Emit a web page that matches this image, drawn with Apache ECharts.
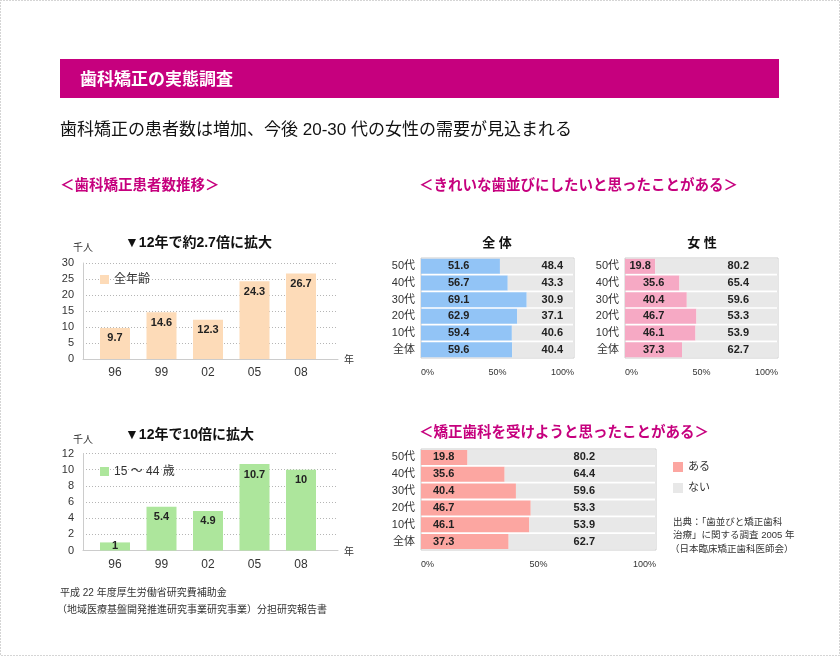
<!DOCTYPE html>
<html><head><meta charset="utf-8">
<script src="https://cdn.jsdelivr.net/npm/echarts@6/dist/echarts.min.js"></script>
<style>html,body{margin:0;padding:0;background:#fff}#c{width:840px;height:656px}</style>
</head><body><div id="c"></div>
<script>
const years = ['96','99','02','05','08'];
const allAges = [9.7, 14.6, 12.3, 24.3, 26.7];
const age15to44 = [1, 5.4, 4.9, 10.7, 10];
const ageGroups = ['50代','40代','30代','20代','10代','全体'];
const wishAllYes = [51.6, 56.7, 69.1, 62.9, 59.4, 59.6];
const wishAllNo = [48.4, 43.3, 30.9, 37.1, 40.6, 40.4];
const wishFemaleYes = [19.8, 35.6, 40.4, 46.7, 46.1, 37.3];
const wishFemaleNo = [80.2, 65.4, 59.6, 53.3, 53.9, 62.7];
const treatYes = [19.8, 35.6, 40.4, 46.7, 46.1, 37.3];
const treatNo = [80.2, 64.4, 59.6, 53.3, 53.9, 62.7];

const FONT = '"Liberation Sans","Noto Sans CJK JP",sans-serif';
const MAG = '#c6007e';
const GREY = '#e8e8e8';

function txt(text, x, y, size, opts) {
  opts = opts || {};
  return {
    type: 'text', x: x, y: y, silent: true,
    style: {
      text: text, fill: opts.color || '#222',
      font: (opts.bold ? 'bold ' : '') + size + 'px ' + FONT,
      textAlign: opts.align || 'left', textVerticalAlign: 'middle',
      align: opts.align || 'left', verticalAlign: 'middle'
    }
  };
}

const valLabel = { show: true, fontSize: 11, fontWeight: 'bold', color: '#222', fontFamily: FONT };

function frameAxes(grid, max, interval) {
  return {
    x: { gridIndex: grid, type: 'category', data: years, axisLabel: { show: false }, axisTick: { show: false },
         axisLine: { lineStyle: { color: '#ccc' } } },
    y: { gridIndex: grid, type: 'value', min: 0, max: max, interval: interval,
         axisLine: { show: true, lineStyle: { color: '#ccc' } }, axisTick: { show: false },
         axisLabel: { fontSize: 11, color: '#333', margin: 9, fontFamily: FONT },
         splitLine: { lineStyle: { type: [1, 2], color: '#b5b5b5' } } }
  };
}
function barAxes(grid, max) {
  return {
    x: { gridIndex: grid, type: 'category', data: years, axisLine: { show: false }, axisTick: { show: false },
         axisLabel: { fontSize: 12, color: '#333', margin: 8, fontFamily: FONT } },
    y: { gridIndex: grid, type: 'value', min: 0, max: max, show: false }
  };
}
function hAxes(grid) {
  return {
    x: { gridIndex: grid, type: 'value', min: 0, max: 100, interval: 50,
         axisLine: { show: false }, axisTick: { show: false }, splitLine: { show: false },
         axisLabel: { formatter: '{value}%', fontSize: 9, color: '#333', margin: 10, fontFamily: FONT,
                      alignMinLabel: 'left', alignMaxLabel: 'right' } },
    y: { gridIndex: grid, type: 'category', data: ageGroups, inverse: true,
         axisLine: { show: false }, axisTick: { show: false },
         axisLabel: { fontSize: 11, color: '#333', margin: 6, fontFamily: FONT } }
  };
}

const f1 = frameAxes(0, 30, 5), b1 = barAxes(1, 30);
const f2 = frameAxes(2, 12, 2), b2 = barAxes(3, 12);
const h1 = hAxes(4), h2 = hAxes(5), h3 = hAxes(6);

const hGrid = { show: true, borderColor: '#ccc', borderWidth: 1, backgroundColor: 'transparent' };

const option = {
  animation: false,
  textStyle: { fontFamily: FONT },
  graphic: [
    { type: 'rect', silent: true, shape: { x: 0.5, y: 0.5, width: 839, height: 655 },
      style: { fill: 'none', stroke: '#aaa', lineWidth: 1, lineDash: [1, 2] } },
    { type: 'rect', silent: true, shape: { x: 60, y: 59, width: 719, height: 39 }, style: { fill: MAG } },
    txt('歯科矯正の実態調査', 80, 80, 17, { bold: true, color: '#fff' }),
    txt('歯科矯正の患者数は増加、今後 20-30 代の女性の需要が見込まれる', 60, 130, 17, { color: '#111' }),
    txt('＜歯科矯正患者数推移＞', 60, 186, 14.5, { bold: true, color: MAG }),
    txt('＜きれいな歯並びにしたいと思ったことがある＞', 419, 186, 14.5, { bold: true, color: MAG }),
    txt('＜矯正歯科を受けようと思ったことがある＞', 419, 433, 14.5, { bold: true, color: MAG }),
    txt('▼12年で約2.7倍に拡大', 125, 243, 14, { bold: true, color: '#111' }),
    txt('▼12年で10倍に拡大', 125, 435, 14, { bold: true, color: '#111' }),
    txt('千人', 83, 248, 10, { align: 'center', color: '#333' }),
    txt('千人', 83, 440, 10, { align: 'center', color: '#333' }),
    txt('年', 349, 360, 10, { align: 'center', color: '#333' }),
    txt('年', 349, 552, 10, { align: 'center', color: '#333' }),
    txt('全 体', 497, 243, 13, { bold: true, align: 'center', color: '#111' }),
    txt('女 性', 702, 243, 13, { bold: true, align: 'center', color: '#111' }),
    txt('出典：「歯並びと矯正歯科', 673, 522, 9.5, { color: '#333' }),
    txt('治療」に関する調査 2005 年', 673, 535.5, 9.5, { color: '#333' }),
    txt('（日本臨床矯正歯科医師会）', 670, 549, 9.5, { color: '#333' }),
    txt('平成 22 年度厚生労働省研究費補助金', 60, 593, 10, { color: '#333' }),
    txt('（地域医療基盤開発推進研究事業研究事業）分担研究報告書', 57, 610, 10, { color: '#333' })
  ],
  legend: [
    { data: ['全年齢'], left: 100, top: 273.5, padding: 0, itemWidth: 9, itemHeight: 9, icon: 'rect',
      selectedMode: false, textStyle: { fontSize: 12, color: '#333', fontFamily: FONT } },
    { data: ['15 ～ 44 歳'], left: 100, top: 465.5, padding: 0, itemWidth: 9, itemHeight: 9, icon: 'rect',
      selectedMode: false, textStyle: { fontSize: 12, color: '#333', fontFamily: FONT } },
    { data: ['ある', 'ない'], orient: 'vertical', left: 673, top: 461.5, padding: 0, itemWidth: 10, itemHeight: 10,
      itemGap: 10, icon: 'rect', selectedMode: false, textStyle: { fontSize: 11, color: '#333', fontFamily: FONT } }
  ],
  grid: [
    { left: 83, top: 263, width: 255, height: 96 },
    { left: 91.75, top: 263, width: 232.5, height: 96 },
    { left: 83, top: 453.5, width: 255, height: 97 },
    { left: 91.75, top: 453.5, width: 232.5, height: 97 },
    Object.assign({ left: 421, top: 258, width: 153, height: 100 }, hGrid),
    Object.assign({ left: 625, top: 258, width: 153, height: 100 }, hGrid),
    Object.assign({ left: 421, top: 449, width: 235, height: 101 }, hGrid)
  ],
  xAxis: [f1.x, b1.x, f2.x, b2.x, h1.x, h2.x, h3.x],
  yAxis: [f1.y, b1.y, f2.y, b2.y, h1.y, h2.y, h3.y],
  series: [
    { name: '全年齢', type: 'bar', xAxisIndex: 1, yAxisIndex: 1, data: allAges, barWidth: 30,
      itemStyle: { color: '#fddbb8' }, label: Object.assign({ position: 'insideTop', distance: 5 }, valLabel) },
    { name: '15 ～ 44 歳', type: 'bar', xAxisIndex: 3, yAxisIndex: 3, barWidth: 30,
      data: age15to44.map(v => v < 2 ? { value: v, label: { position: 'inside' } } : v),
      itemStyle: { color: '#ade69c' }, label: Object.assign({ position: 'insideTop', distance: 5 }, valLabel) },

    { name: '全体ある', type: 'bar', xAxisIndex: 4, yAxisIndex: 4, stack: 'a', data: wishAllYes, barWidth: 15,
      itemStyle: { color: '#92c4f6' }, label: Object.assign({ position: 'insideLeft', distance: 27 }, valLabel) },
    { name: '全体ない', type: 'bar', xAxisIndex: 4, yAxisIndex: 4, stack: 'a', data: wishAllNo, barWidth: 15,
      itemStyle: { color: GREY }, label: Object.assign({ position: 'insideRight', distance: 11 }, valLabel) },

    { name: '女性ある', type: 'bar', xAxisIndex: 5, yAxisIndex: 5, stack: 'b', barWidth: 15,
      data: wishFemaleYes.map(v => v < 25 ? { value: v, label: { position: 'inside' } } : v),
      itemStyle: { color: '#f6a9c4' }, label: Object.assign({ position: 'insideLeft', distance: 18 }, valLabel) },
    { name: '女性ない', type: 'bar', xAxisIndex: 5, yAxisIndex: 5, stack: 'b', data: wishFemaleNo, barWidth: 15,
      itemStyle: { color: GREY }, label: Object.assign({ position: 'insideRight', distance: 29 }, valLabel) },

    { name: 'ある', type: 'bar', xAxisIndex: 6, yAxisIndex: 6, stack: 'c', data: treatYes, barWidth: 15,
      itemStyle: { color: '#fca6a1' }, label: Object.assign({ position: 'insideLeft', distance: 12 }, valLabel) },
    { name: 'ない', type: 'bar', xAxisIndex: 6, yAxisIndex: 6, stack: 'c', data: treatNo, barWidth: 15,
      itemStyle: { color: GREY }, label: Object.assign({ position: 'insideRight', distance: 61 }, valLabel) }
  ]
};
const chart = echarts.init(document.getElementById('c'), null, { renderer: 'canvas' });
chart.setOption(option);
</script></body></html>
